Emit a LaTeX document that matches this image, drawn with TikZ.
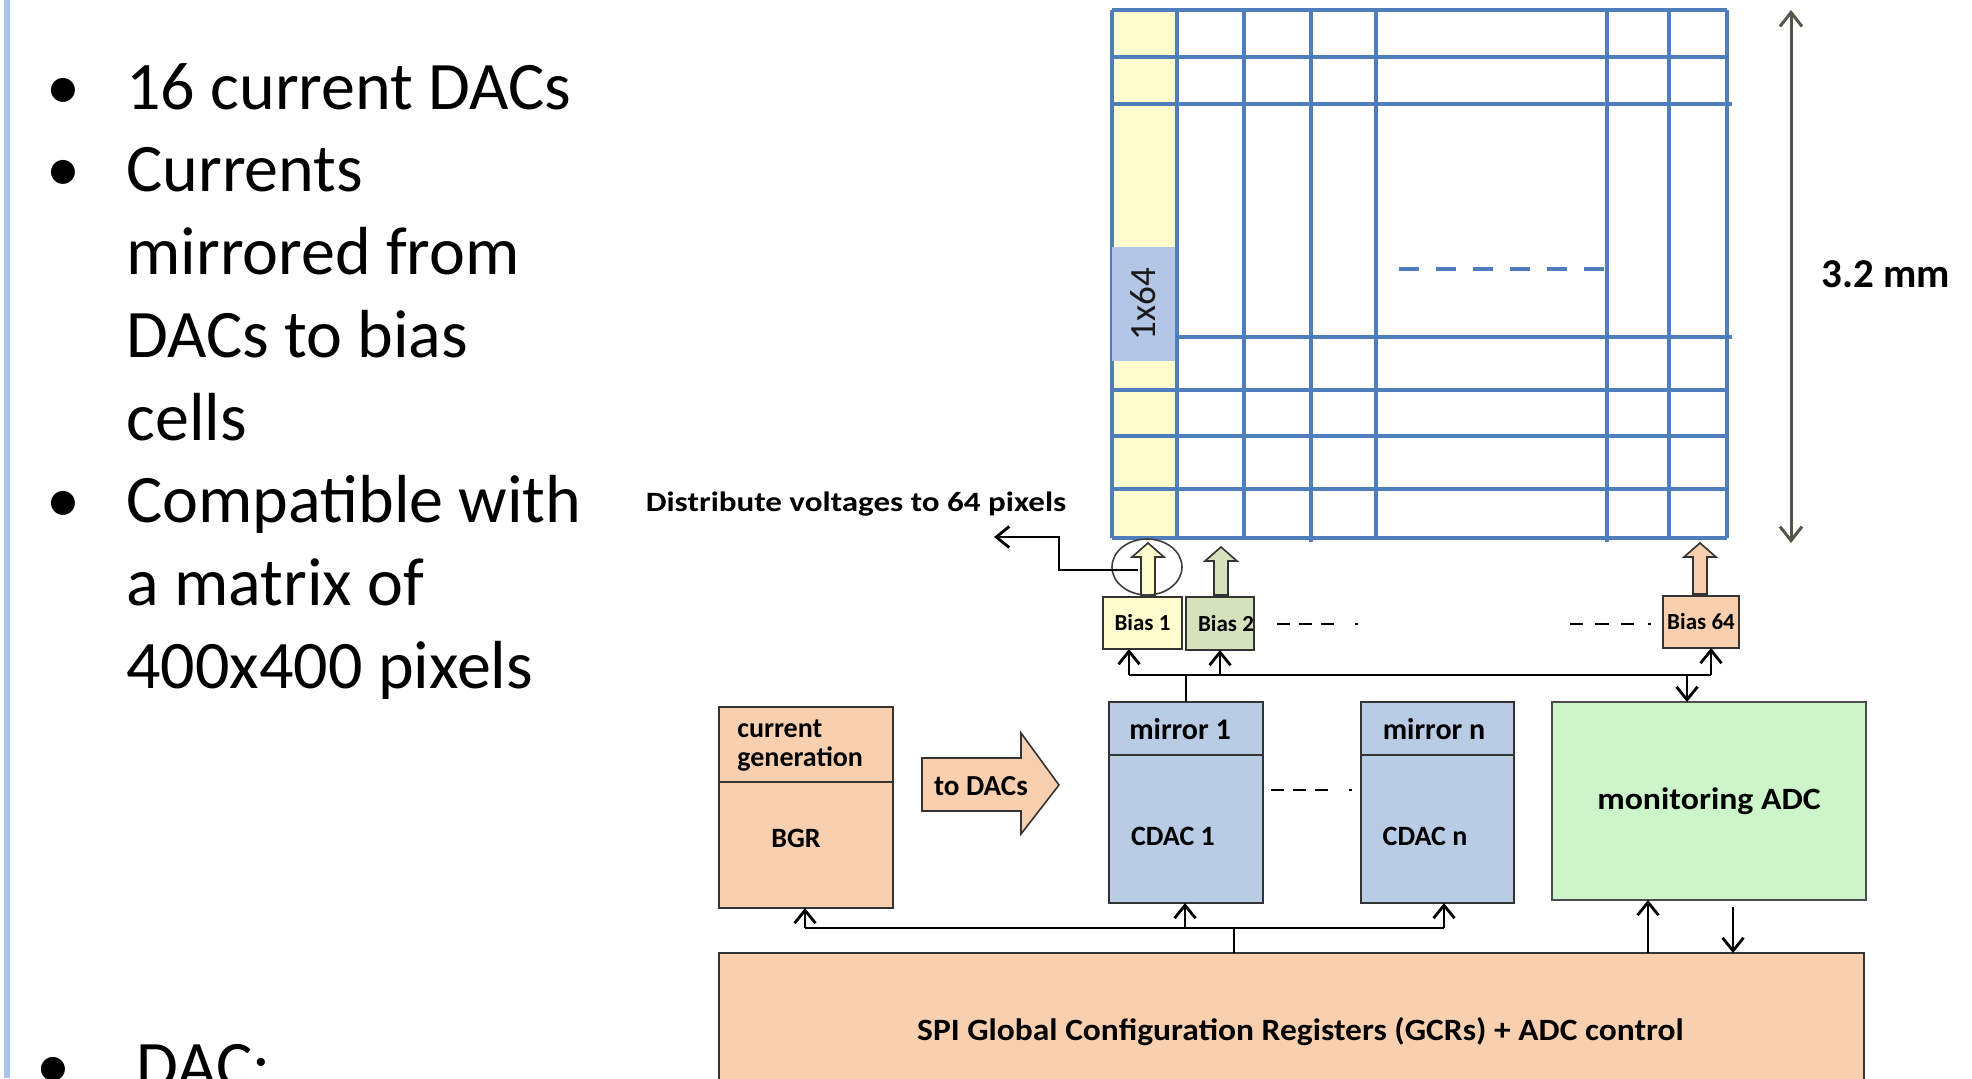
\documentclass[tikz,border=0pt]{standalone}
\usepackage{fontspec}
\setmainfont{Carlito}
\usetikzlibrary{arrows.meta,calc,shapes.geometric}
\definecolor{peach}{HTML}{F9D0AF}
\definecolor{lblue}{HTML}{B8CCE6}
\definecolor{lgreen}{HTML}{CCF6CA}
\definecolor{lyellow}{HTML}{FFFDCD}
\definecolor{olivelt}{HTML}{D5E2BC}
\definecolor{gridblue}{HTML}{4F7EBD}
\definecolor{labblue}{HTML}{B3C6E6}
\definecolor{bordc}{HTML}{333333}
\definecolor{dimc}{HTML}{55554A}
\definecolor{barblue}{HTML}{A8C4EA}
\newcommand{\wx}[2]{\scalebox{#1}[1]{#2}}
\newcommand{\blockup}[4]{\draw[blk,fill=#4] (#1-7,#3) -- (#1-7,#2+14) -- (#1-16,#2+14) -- (#1,#2) -- (#1+16,#2+14) -- (#1+7,#2+14) -- (#1+7,#3) -- cycle;}
\begin{document}
\begin{tikzpicture}[x=0.5pt,y=-0.5pt,
 box/.style={draw=bordc,line width=1.3pt,inner sep=0pt,outer sep=0pt},
 biasbox/.style={draw=bordc,line width=0.8pt,inner sep=0pt,outer sep=0pt,font=\fontsize{11.5}{12}\selectfont\bfseries},
 wire/.style={draw=black,line width=1.4pt},
 arr/.style={wire,-{Straight Barb[length=6.5pt,width=10.5pt]}},
 gridln/.style={draw=gridblue,line width=1.7pt},
 lbl/.style={inner sep=0pt,font=\fontsize{14}{14.5}\selectfont\bfseries},
 bul/.style={inner sep=0pt,anchor=base west,font=\fontsize{34}{41}\selectfont},
 dot/.style={inner sep=0pt,anchor=base,font=\fontsize{34}{41}\selectfont},
 blk/.style={draw=bordc,line width=0.8pt,line join=miter},
 dashgrp/.style={draw=black,line width=1.3pt,dash pattern=on 6.7pt off 4.2pt on 6.7pt off 4.2pt on 6.7pt off 10.5pt on 1.5pt off 40pt},
]
\useasboundingbox (0,0) rectangle (1972,1078);
\clip (0,0) rectangle (1972,1078);
\fill[white] (0,0) rectangle (1972,1078);
% left bar
\fill[barblue] (4,0) rectangle (10,1078);

% bullet text
\node[dot] (d1) at (63,109) {•};
\node[bul] (t1) at (126,109) {16 current DACs};
\node[dot] (d2) at (63,191) {•};
\node[bul] (t2) at (126,191) {Currents};
\node[bul] (t3) at (126,274) {mirrored from};
\node[bul] (t4) at (126,357) {DACs to bias};
\node[bul] (t5) at (126,440) {cells};
\node[dot] (d3) at (63,522) {•};
\node[bul] (t6) at (126,522) {Compatible with};
\node[bul] (t7) at (126,605) {a matrix of};
\node[bul] (t8) at (126,688) {400x400 pixels};
\node[dot] (d4) at (53,1088) {•};
\node[bul] (t9) at (136,1088) {DAC:};

% pixel matrix
\fill[lyellow] (1112,10) rectangle (1177,538);
\foreach \x in {1112,1177,1244,1376,1669,1727} \draw[gridln] (\x,10) -- (\x,538);
\foreach \x in {1311,1607} \draw[gridln] (\x,12) -- (\x,542);
\foreach \y in {10,57,390,436,489,538} \draw[gridln] (1112,\y) -- (1727,\y);
\foreach \y in {104,337} \draw[gridln] (1112,\y) -- (1732,\y);
\draw[gridln,dash pattern=on 10pt off 8.5pt] (1399,269) -- (1607,269);
\node[fill=labblue,rotate=90,minimum width=57pt,minimum height=31.5pt,inner sep=0pt,font=\fontsize{18.5}{18.5}\selectfont,text=black!90] (lab) at (1143.5,304) {1x64};

% dimension
\coordinate (dimtop) at (1791,10);
\coordinate (dimbot) at (1791,543);
\draw[draw=dimc,line width=1.5pt,{Straight Barb[length=7pt,width=11pt]}-{Straight Barb[length=7pt,width=11pt]}] (dimtop) -- (dimbot);
\node[inner sep=0pt,font=\fontsize{20.5}{20.5}\selectfont\bfseries] (dimlab) at (1886,274) {3.2 mm};

% bias cells
\node[biasbox,fill=lyellow,minimum width=39.5pt,minimum height=26pt] (b1) at (1142.5,623) {Bias 1};
\node[biasbox,fill=olivelt,minimum width=34pt,minimum height=26.5pt] (b2) at (1220,623.5) {\hspace*{6pt}Bias 2};
\node[biasbox,fill=peach,minimum width=38pt,minimum height=26pt] (b64) at (1701,622) {Bias 64};
\blockup{1148}{543}{595}{lyellow}
\blockup{1221}{547}{595}{olivelt}
\blockup{1700}{543}{594}{peach}
\node[draw=black!75,line width=0.8pt,ellipse,minimum width=35pt,minimum height=28pt,inner sep=0pt] (circ) at (1147,567) {};
\draw[dashgrp] (1277,624) -- (1359,624);
\draw[draw=black,line width=1.3pt,dash pattern=on 6.7pt off 6pt on 6.7pt off 6pt on 6.7pt off 7pt on 1.5pt off 40pt] (1570,624) -- (1652,624);

% distribute label
\node[inner sep=0pt,font=\fontsize{14}{14}\selectfont\bfseries] (dist) at (856,504) {\wx{1.18}{Distribute voltages to 64 pixels}};
\coordinate (dtip) at (994,537);
\draw[arr] ($(circ.center)+(-9,3)$) -| ($(dtip)+(65,0)$) -- (dtip);

% lower blocks
\node[box,fill=peach,minimum width=87pt,minimum height=100.5pt] (bgr) at (806,807.5) {};
\draw[box] (719,782) -- (893,782);
\node[lbl,anchor=west,align=left] (cg) at (737,746) {current\\generation};
\node[lbl] (bgrt) at (796,838) {BGR};

\draw[blk,fill=peach] (922,758) -- (1021,758) -- (1021,733) -- (1059,785) -- (1021,834) -- (1021,811) -- (922,811) -- cycle;
\node[lbl,font=\fontsize{14.5}{15}\selectfont\bfseries] (todacs) at (981,786) {to DACs};

\node[box,fill=lblue,minimum width=77pt,minimum height=100.5pt] (m1) at (1186,802.5) {};
\draw[box] (1109,755) -- (1263,755);
\node[lbl,font=\fontsize{15}{15}\selectfont\bfseries] (m1t) at (1180,729) {mirror 1};
\node[lbl] (c1t) at (1173,836) {CDAC 1};

\node[box,fill=lblue,minimum width=76.5pt,minimum height=100.5pt] (mn) at (1437.5,802.5) {};
\draw[box] (1361,755) -- (1514,755);
\node[lbl,font=\fontsize{15}{15}\selectfont\bfseries] (mnt) at (1434,729) {mirror n};
\node[lbl] (cnt) at (1425,836) {CDAC n};
\draw[dashgrp] (1271,790) -- (1353,790);

\node[box,fill=lgreen,draw=black!70,minimum width=157pt,minimum height=99pt,font=\fontsize{15.5}{16}\selectfont\bfseries] (adc) at (1709,801) {\wx{1.09}{monitoring ADC}};

\node[box,fill=peach,minimum width=572.5pt,minimum height=78.5pt,font=\fontsize{15.5}{16}\selectfont\bfseries] (spi) at (1291.5,1031.5) {\hspace*{9pt}\wx{1.08}{SPI Global Configuration Registers (GCRs) + ADC control}};

% top bus
\coordinate (bt1) at (1129,675);
\coordinate (bt2) at (1220,675);
\coordinate (bt64) at (1711,675);
\coordinate (bta) at (1687,675);
\draw[wire] (bt1) -- (bt64);
\draw[arr] (bt1) -- (bt1 |- b1.south);
\draw[arr] (bt2) -- (bt2 |- b2.south);
\draw[arr] (bt64) -- (bt64 |- b64.south);
\draw[arr] (bta) -- (bta |- adc.north);
\draw[wire] (m1.north) -- (m1.north |- bt1);

% bottom bus
\coordinate (bb1) at (805,928);
\coordinate (bb2) at (1185,928);
\coordinate (bb3) at (1444,928);
\coordinate (bbs) at (1234,928);
\draw[wire] (bb1) -- (bb3);
\draw[arr] (bb1) -- (bb1 |- bgr.south);
\draw[arr] (bb2) -- (bb2 |- m1.south);
\draw[arr] (bb3) -- (bb3 |- mn.south);
\draw[wire] (bbs |- spi.north) -- (bbs);
\coordinate (au) at (1648,930);
\coordinate (ad) at (1733,930);
\draw[arr] (au |- spi.north) -- (au |- adc.south);
\draw[arr] ($(ad |- adc.south)+(0,7)$) -- (ad |- spi.north);
\end{tikzpicture}
\end{document}
